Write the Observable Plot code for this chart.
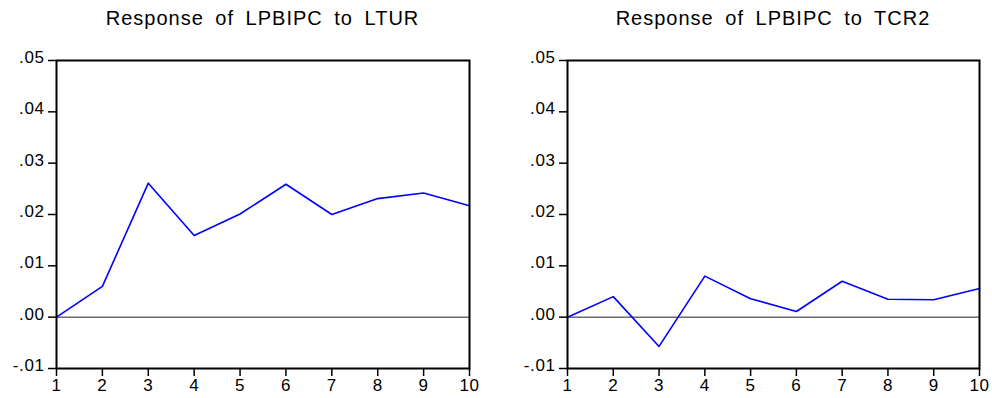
<!DOCTYPE html>
<html>
<head>
<meta charset="utf-8">
<script src="https://cdn.jsdelivr.net/npm/d3@7"></script>
<script src="https://cdn.jsdelivr.net/npm/@observablehq/plot@0.6"></script>
<style>
  html, body { margin: 0; padding: 0; background: #fff; }
  #wrap { display: flex; width: 992px; height: 398px; }
  .panel { width: 496px; height: 398px; }
  .title {
    height: 36px; box-sizing: border-box; padding-top: 8px;
    font-family: "Liberation Sans", Arial, sans-serif; font-size: 20px; line-height: 20px;
    letter-spacing: 1px; word-spacing: 5px; color: #000; white-space: nowrap;
  }
  svg { display: block; }
</style>
</head>
<body>
<div id="wrap"></div>
<script>
const periods = [1, 2, 3, 4, 5, 6, 7, 8, 9, 10];
const respLTUR = [0, 0.0060, 0.0261, 0.0159, 0.0201, 0.0259, 0.0200, 0.0231, 0.0242, 0.0217];
const respTCR2 = [0, 0.0040, -0.0057, 0.0080, 0.0036, 0.0011, 0.0070, 0.0035, 0.0034, 0.0056];
const titles = ["Response of LPBIPC to LTUR", "Response of LPBIPC to TCR2"];
const yTicks = [-0.01, 0, 0.01, 0.02, 0.03, 0.04, 0.05];
const xTicks = [1, 2, 3, 4, 5, 6, 7, 8, 9, 10];

const fmt = d => d.toFixed(2).replace("0.", ".");

const panels = [
  {title: titles[0], values: respLTUR, ml: 56, mr: 27},
  {title: titles[1], values: respTCR2, ml: 71, mr: 13}
];

const wrap = document.getElementById("wrap");
for (const p of panels) {
  const div = document.createElement("div");
  div.className = "panel";
  const t = document.createElement("div");
  t.className = "title";
  t.textContent = p.title;
  t.style.textAlign = "center";
  t.style.paddingLeft = (p.ml - p.mr) + "px";
  div.appendChild(t);
  const data = periods.map((x, i) => ({x, y: p.values[i]}));
  const chart = Plot.plot({
    width: 496,
    height: 362,
    marginTop: 24,
    marginBottom: 30,
    marginLeft: p.ml,
    marginRight: p.mr,
    style: {fontFamily: "Liberation Sans, Arial, sans-serif", fontSize: "17px", letterSpacing: "0.6px", color: "#000", background: "#fff"},
    x: {domain: [1, 10]},
    y: {domain: [-0.01, 0.05]},
    marks: [
      Plot.ruleY([0], {stroke: "#222", strokeWidth: 1}),
      Plot.line(data, {x: "x", y: "y", stroke: "#0000ff", strokeWidth: 1.6}),
      Plot.axisX(xTicks, {tickSize: 8, tickPadding: 2, fontSize: 17, strokeWidth: 1.5, label: null, tickFormat: d => String(d)}),
      Plot.axisY(yTicks, {tickSize: 8, strokeWidth: 1.5, label: null, tickFormat: () => ""}),
      Plot.axisY(yTicks, {tickSize: 0, tickPadding: 12, dy: -3, fontSize: 17, label: null, tickFormat: fmt}),
      Plot.frame({stroke: "#000", strokeWidth: 2})
    ]
  });
  div.appendChild(chart);
  wrap.appendChild(div);
}
</script>
</body>
</html>
